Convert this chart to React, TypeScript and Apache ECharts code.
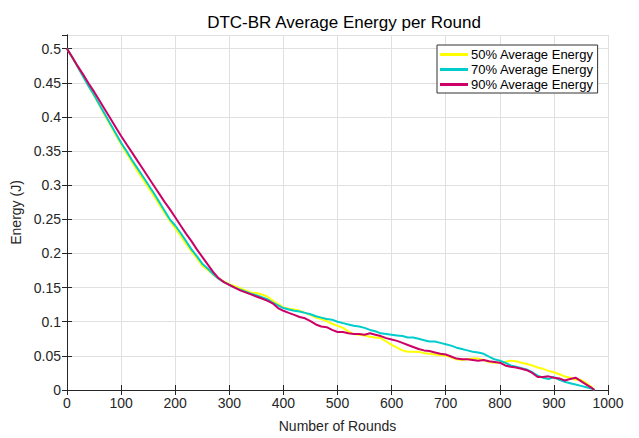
import React, { useEffect, useRef } from "react";
import * as echarts from "echarts";

const rounds = [
  0, 10, 20, 30, 40, 50, 60, 70, 80, 90, 100, 110, 120, 130, 140, 150, 160, 170, 180, 190,
  200, 210, 220, 230, 240, 250, 260, 270, 280, 290, 300, 310, 320, 330, 340, 350, 360, 370, 380, 390,
  400, 410, 420, 430, 440, 450, 460, 470, 480, 490, 500, 510, 520, 530, 540, 550, 560, 570, 580, 590,
  600, 610, 620, 630, 640, 650, 660, 670, 680, 690, 700, 710, 720, 730, 740, 750, 760, 770, 780, 790,
  800, 810, 820, 830, 840, 850, 860, 870, 880, 890, 900, 910, 920, 930, 940, 950, 960, 970, 975,
];

const energy50 = [
  0.5, 0.487, 0.473, 0.459, 0.445, 0.431, 0.417, 0.402, 0.388, 0.374, 0.36, 0.347, 0.334, 0.321, 0.309, 0.297, 0.285, 0.272, 0.26, 0.248,
  0.237, 0.226, 0.214, 0.203, 0.193, 0.182, 0.176, 0.169, 0.163, 0.159, 0.155, 0.152, 0.149, 0.146, 0.143, 0.142, 0.14, 0.137, 0.131, 0.126,
  0.121, 0.119, 0.118, 0.116, 0.113, 0.11, 0.106, 0.104, 0.101, 0.097, 0.094, 0.091, 0.086, 0.082, 0.081, 0.08, 0.078, 0.077, 0.076, 0.071,
  0.066, 0.062, 0.058, 0.056, 0.056, 0.056, 0.054, 0.053, 0.052, 0.051, 0.05, 0.048, 0.045, 0.044, 0.045, 0.046, 0.046, 0.044, 0.041, 0.04,
  0.04, 0.041, 0.043, 0.042, 0.04, 0.038, 0.036, 0.033, 0.031, 0.028, 0.026, 0.023, 0.02, 0.018, 0.015, 0.015, 0.01, 0.004, 0.0,
];

const energy70 = [
  0.5, 0.487, 0.473, 0.459, 0.445, 0.432, 0.418, 0.404, 0.39, 0.376, 0.362, 0.35, 0.337, 0.325, 0.313, 0.301, 0.289, 0.276, 0.263, 0.25,
  0.241, 0.23, 0.218, 0.206, 0.196, 0.185, 0.178, 0.17, 0.163, 0.158, 0.154, 0.15, 0.147, 0.144, 0.141, 0.139, 0.136, 0.133, 0.128, 0.124,
  0.12, 0.118, 0.116, 0.115, 0.113, 0.111, 0.108, 0.106, 0.104, 0.103, 0.1, 0.098, 0.096, 0.094, 0.093, 0.091, 0.088, 0.086, 0.083, 0.082,
  0.081, 0.08, 0.079, 0.077, 0.077, 0.075, 0.073, 0.071, 0.071, 0.069, 0.067, 0.065, 0.062, 0.06, 0.058, 0.056, 0.055, 0.053, 0.049, 0.045,
  0.043, 0.04, 0.036, 0.034, 0.032, 0.03, 0.026, 0.021, 0.018, 0.016, 0.019, 0.015, 0.012, 0.01, 0.008, 0.006, 0.004, 0.002, 0.0,
];

const energy90 = [
  0.5, 0.487, 0.474, 0.462, 0.449, 0.437, 0.424, 0.411, 0.398, 0.385, 0.372, 0.36, 0.348, 0.336, 0.324, 0.312, 0.3, 0.288, 0.276, 0.265,
  0.253, 0.241, 0.229, 0.218, 0.206, 0.195, 0.184, 0.173, 0.164, 0.158, 0.154, 0.15, 0.146, 0.143, 0.14, 0.137, 0.134, 0.131, 0.127, 0.12,
  0.116, 0.113, 0.11, 0.107, 0.105, 0.101, 0.096, 0.093, 0.092, 0.088, 0.085, 0.085, 0.083, 0.082, 0.082, 0.081, 0.083, 0.081, 0.079, 0.076,
  0.074, 0.072, 0.069, 0.066, 0.063, 0.06, 0.058, 0.057, 0.055, 0.053, 0.052, 0.049, 0.046, 0.045, 0.045, 0.044, 0.043, 0.044, 0.042, 0.041,
  0.04, 0.036, 0.034, 0.033, 0.031, 0.029, 0.025, 0.019, 0.019, 0.02, 0.018, 0.017, 0.014, 0.016, 0.018, 0.013, 0.008, 0.003, 0.0,
];

const seriesNames = ["50% Average Energy", "70% Average Energy", "90% Average Energy"];
const seriesColors = ["#ffff00", "#00cccc", "#cc0066"];

const FONT = "'Liberation Sans', Arial, sans-serif";
const AXIS_COLOR = "#262626";

export default function App() {
  const ref = useRef<HTMLDivElement>(null);

  useEffect(() => {
    if (!ref.current) return;
    const chart = echarts.init(ref.current, undefined, { renderer: "svg" });
    const allData = [energy50, energy70, energy90];

    const hiddenAxisCommon = {
      axisLine: { show: true, lineStyle: { color: AXIS_COLOR, width: 1 } },
      axisTick: { show: true, inside: true, length: 5, lineStyle: { color: AXIS_COLOR } },
      axisLabel: { show: false },
      splitLine: { show: false },
    };

    chart.setOption({
      animation: false,
      backgroundColor: "#ffffff",
      title: {
        text: "DTC-BR Average Energy per Round",
        left: 339,
        top: 9,
        textAlign: "center",
        textStyle: { fontFamily: FONT, fontSize: 17, fontWeight: "normal", color: "#000000" },
      },
      legend: {
        orient: "vertical",
        left: 437,
        top: 45,
        itemWidth: 28,
        itemHeight: 3,
        itemGap: 2,
        padding: [3, 4, 2, 3],
        icon: "rect",
        backgroundColor: "#ffffff",
        borderColor: "#333333",
        borderWidth: 1,
        borderRadius: 0,
        textStyle: { fontFamily: FONT, fontSize: 13, color: "#000000", padding: [0, 0, 0, -2] },
        data: seriesNames,
      },
      grid: { left: 67, right: 31, top: 35, bottom: 45, containLabel: false },
      xAxis: [
        {
          type: "value",
          min: 0,
          max: 1000,
          interval: 100,
          name: "Number of Rounds",
          nameLocation: "middle",
          nameGap: 29,
          nameTextStyle: { fontFamily: FONT, fontSize: 14, color: AXIS_COLOR },
          axisLine: { show: true, lineStyle: { color: AXIS_COLOR, width: 1 } },
          axisTick: { show: true, inside: true, length: 5, lineStyle: { color: AXIS_COLOR } },
          axisLabel: {
            fontFamily: FONT,
            fontSize: 14,
            color: AXIS_COLOR,
            margin: 6,
            formatter: (v: number) => String(Math.round(v)),
          },
          splitLine: { show: true, lineStyle: { color: "#e0e0e0", width: 1 } },
        },
        {
          type: "value",
          position: "top",
          min: 0,
          max: 1000,
          interval: 100,
          ...hiddenAxisCommon,
        },
      ],
      yAxis: [
        {
          type: "value",
          min: 0,
          max: 0.52,
          interval: 0.05,
          name: "Energy (J)",
          nameLocation: "middle",
          nameGap: 43,
          nameTextStyle: { fontFamily: FONT, fontSize: 14, color: AXIS_COLOR },
          axisLine: { show: true, lineStyle: { color: AXIS_COLOR, width: 1 } },
          axisTick: { show: true, inside: true, length: 5, lineStyle: { color: AXIS_COLOR } },
          axisLabel: {
            fontFamily: FONT,
            fontSize: 14,
            color: AXIS_COLOR,
            margin: 6,
            showMaxLabel: false,
            formatter: (v: number) => String(Math.round(v * 100) / 100),
          },
          splitLine: { show: true, lineStyle: { color: "#e0e0e0", width: 1 } },
        },
        {
          type: "value",
          position: "right",
          min: 0,
          max: 0.52,
          interval: 0.05,
          ...hiddenAxisCommon,
        },
      ],
      series: seriesNames.map((name, i) => ({
        name,
        type: "line",
        xAxisIndex: 0,
        yAxisIndex: 0,
        symbol: "none",
        showSymbol: false,
        lineStyle: { color: seriesColors[i], width: 2 },
        itemStyle: { color: seriesColors[i] },
        data: rounds.map((r, j) => [r, allData[i][j]]),
      })),
    });

    return () => chart.dispose();
  }, []);

  return <div ref={ref} style={{ width: 639, height: 438, position: "absolute", left: 0, top: 0 }} />;
}
